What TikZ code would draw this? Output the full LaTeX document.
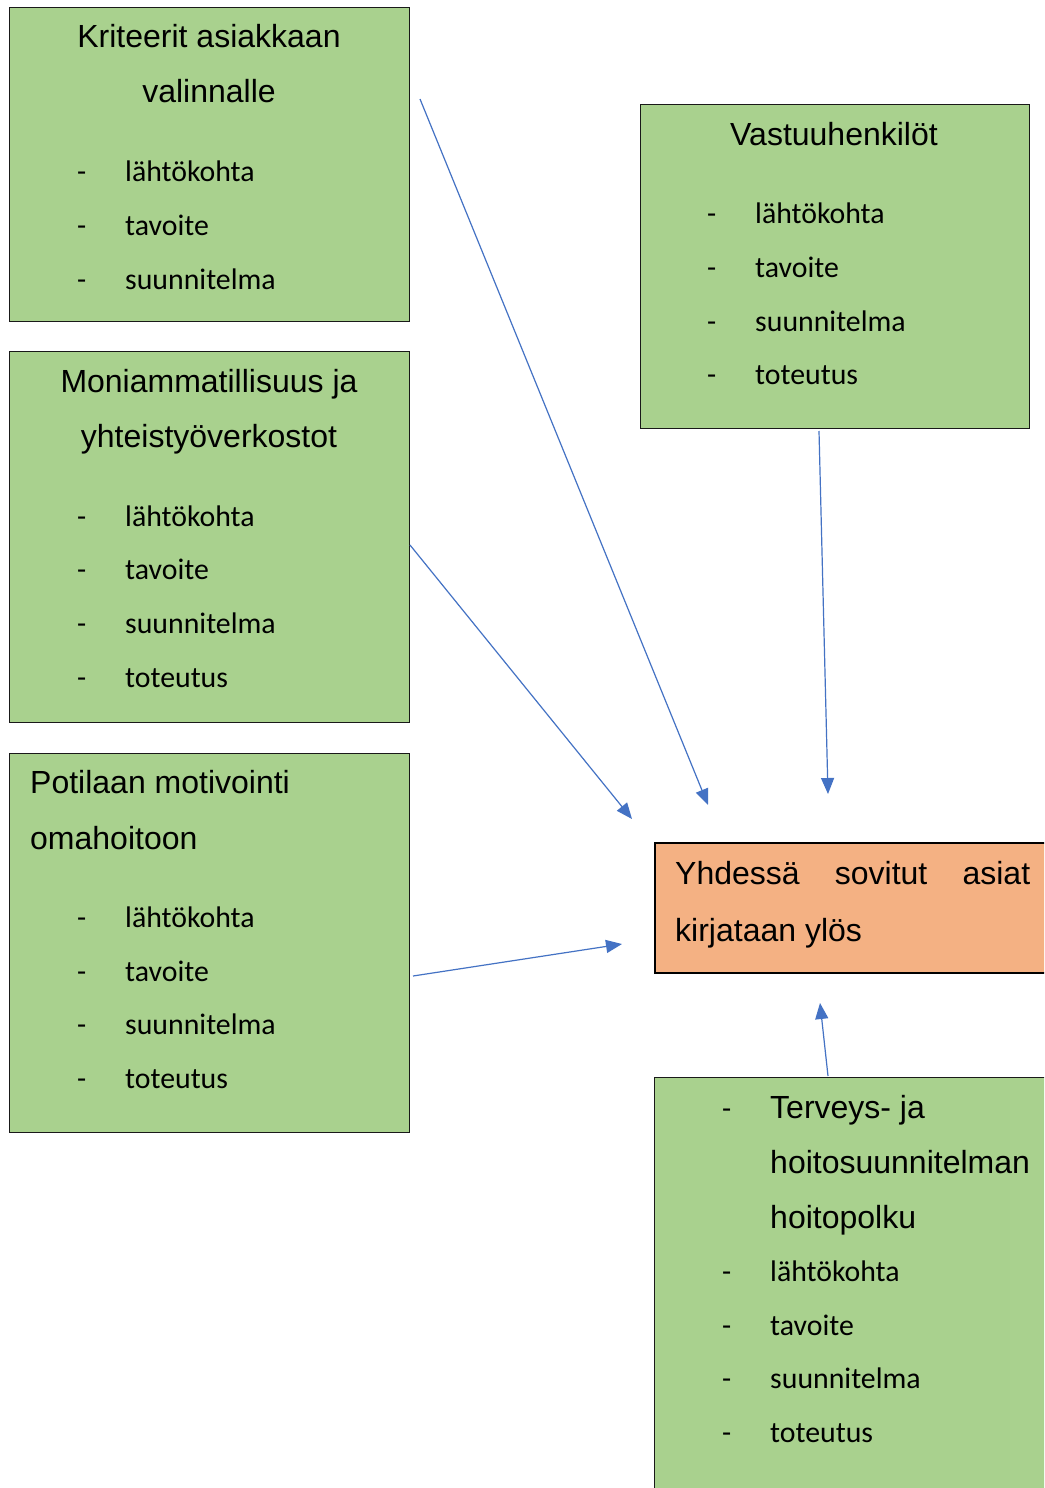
\documentclass[tikz,border=0pt]{standalone}
\usepackage{fontspec}
\setmainfont{Liberation Sans}
\newfontfamily\calfont{Carlito}
\usetikzlibrary{arrows.meta}
\definecolor{boxgreen}{HTML}{A9D18E}
\definecolor{boxorange}{HTML}{F4B183}
\definecolor{arrowblue}{HTML}{4472C4}
\begin{document}
\begin{tikzpicture}[x=1pt,y=-1pt,
  gbox/.style={draw=black!90,line width=1.2pt,fill=boxgreen,anchor=north west,inner sep=0pt},
  obox/.style={draw=black,line width=2.4pt,fill=boxorange,anchor=north west,inner sep=0pt},
  hd/.style={inner sep=0pt,anchor=base,font=\fontsize{32}{38}\selectfont},
  hdl/.style={hd,anchor=base west},
  itm/.style={inner sep=0pt,anchor=base west,font=\calfont\fontsize{29.8}{35}\selectfont},
  conn/.style={draw=arrowblue,line width=1.2pt,-{Triangle[length=16pt,width=13pt]}}]
\useasboundingbox (0,0) rectangle (1044,1488);
\clip (0,0) rectangle (1044,1488);
\fill[white] (0,0) rectangle (1044,1488);

% boxes
\node[gbox,minimum width=400pt,minimum height=314pt] (b1) at (9,7) {};
\node[gbox,minimum width=400pt,minimum height=371pt] (b2) at (9,351) {};
\node[gbox,minimum width=400pt,minimum height=379pt] (b3) at (9,753) {};
\node[gbox,minimum width=389pt,minimum height=324pt] (b4) at (640,104) {};
\node[obox,minimum width=410pt,minimum height=130pt] (bo) at (654,842) {};
\node[gbox,minimum width=410pt,minimum height=430pt] (b5) at (654,1077) {};

% box 1
\node[hd] (h1a) at (209,48) {Kriteerit asiakkaan};
\node[hd] (h1b) at (209,102) {valinnalle};
\node[itm] (d1a) at (77,181) {-};
\node[itm] (i1a) at (125,181) {lähtökohta};
\node[itm] (d1b) at (77,235) {-};
\node[itm] (i1b) at (125,235) {tavoite};
\node[itm] (d1c) at (77,289) {-};
\node[itm] (i1c) at (125,289) {suunnitelma};

% box 2
\node[hd] (h2a) at (209,392) {Moniammatillisuus ja};
\node[hd] (h2b) at (209,447) {yhteistyöverkostot};
\node[itm] (d2a) at (77,526) {-};
\node[itm] (i2a) at (125,526) {lähtökohta};
\node[itm] (d2b) at (77,579) {-};
\node[itm] (i2b) at (125,579) {tavoite};
\node[itm] (d2c) at (77,633) {-};
\node[itm] (i2c) at (125,633) {suunnitelma};
\node[itm] (d2d) at (77,687) {-};
\node[itm] (i2d) at (125,687) {toteutus};

% box 3
\node[hdl] (h3a) at (30,793) {Potilaan motivointi};
\node[hdl] (h3b) at (30,849) {omahoitoon};
\node[itm] (d3a) at (77,927) {-};
\node[itm] (i3a) at (125,927) {lähtökohta};
\node[itm] (d3b) at (77,981) {-};
\node[itm] (i3b) at (125,981) {tavoite};
\node[itm] (d3c) at (77,1034) {-};
\node[itm] (i3c) at (125,1034) {suunnitelma};
\node[itm] (d3d) at (77,1088) {-};
\node[itm] (i3d) at (125,1088) {toteutus};

% box 4
\node[hd] (h4a) at (834,145) {Vastuuhenkilöt};
\node[itm] (d4a) at (707,223) {-};
\node[itm] (i4a) at (755,223) {lähtökohta};
\node[itm] (d4b) at (707,277) {-};
\node[itm] (i4b) at (755,277) {tavoite};
\node[itm] (d4c) at (707,331) {-};
\node[itm] (i4c) at (755,331) {suunnitelma};
\node[itm] (d4d) at (707,384) {-};
\node[itm] (i4d) at (755,384) {toteutus};

% orange box
\node[hdl] (o1) at (675,884) {\hbox to 355pt{Yhdessä\hfill sovitut\hfill asiat}};
\node[hdl] (o2) at (675,941) {kirjataan ylös};

% box 5
\node[itm] (d5a) at (722,1118) {-};
\node[hdl] (h5a) at (770,1118) {Terveys- ja};
\node[hdl] (h5b) at (770,1173) {hoitosuunnitelman};
\node[hdl] (h5c) at (770,1228) {hoitopolku};
\node[itm] (d5b) at (722,1281) {-};
\node[itm] (i5b) at (770,1281) {lähtökohta};
\node[itm] (d5c) at (722,1335) {-};
\node[itm] (i5c) at (770,1335) {tavoite};
\node[itm] (d5d) at (722,1388) {-};
\node[itm] (i5d) at (770,1388) {suunnitelma};
\node[itm] (d5e) at (722,1442) {-};
\node[itm] (i5e) at (770,1442) {toteutus};

% connectors
\coordinate (a1s) at (420,99);   \coordinate (a1e) at (708,805);
\coordinate (a2s) at (410,545);  \coordinate (a2e) at (632,819);
\coordinate (a3s) at (819,431);  \coordinate (a3e) at (828,794);
\coordinate (a4s) at (413,976);  \coordinate (a4e) at (622,944);
\coordinate (a5s) at (828,1076); \coordinate (a5e) at (820,1003);
\draw[conn] (a1s) -- (a1e);
\draw[conn] (a2s) -- (a2e);
\draw[conn] (a3s) -- (a3e);
\draw[conn] (a4s) -- (a4e);
\draw[conn] (a5s) -- (a5e);
\end{tikzpicture}
\end{document}
